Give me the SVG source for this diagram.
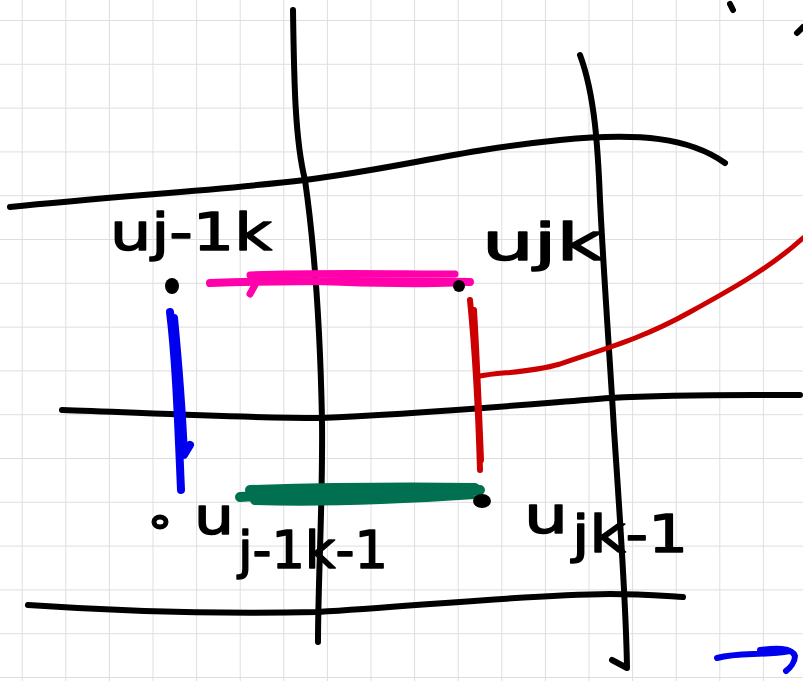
<svg xmlns="http://www.w3.org/2000/svg" width="803" height="681" viewBox="0 0 803 681">
<defs>
<pattern id="grid" x="21.7" y="20" width="43.6" height="43.8" patternUnits="userSpaceOnUse">
<path d="M0 0H43.6M0 0V43.8" fill="none" stroke="#dedede" stroke-width="2"/>
</pattern>
</defs>
<style>
.k{fill:none;stroke:#000;stroke-width:6;stroke-linecap:round;stroke-linejoin:round}
.t{font-family:"DejaVu Sans","Liberation Sans",sans-serif;fill:#000;stroke:#000;stroke-width:1.5;stroke-linejoin:round;font-size:52px}
.dot{fill:#000}
</style>
<rect width="803" height="681" fill="#fff"/>
<rect width="803" height="681" fill="url(#grid)"/>
<g id="grid-lines">
<path class="k" d="M10 207 C120 196 220 190 305 180 C400 168 460 150 560 140 C640 132 690 138 725 163"/>
<path class="k" d="M293 10 C294 80 295 140 305 180 C315 250 320 320 322 420 C323 500 318 580 318 642"/>
<path class="k" d="M580 55 C595 95 598 150 600 200 C604 280 610 360 614 430 C620 520 626 600 627 668 L612 660"/>
<path class="k" d="M62 410 C130 412 230 418 320 418 C420 414 520 405 610 398 C680 394 740 395 800 395"/>
<path class="k" d="M28 605 C130 612 230 614 318 612 C420 606 520 595 610 594 C640 594 665 596 683 597"/>
<path class="k" d="M733 10 L730 4"/>
<path class="k" d="M797 33 L803 27"/>
</g>
<g id="connectors" fill="none" stroke-linecap="round" stroke-linejoin="round">
<path d="M210 283 C300 280 400 281 470 282" stroke="#ff00aa" stroke-width="8"/>
<path d="M250 275 C320 272 400 274 455 274 M255 278 C320 282 400 285 455 283 M255 285 L250 294" stroke="#ff00aa" stroke-width="7"/>
<path d="M170 312 C176 360 178 420 181 490 M174 318 C178 360 182 410 184 455 L190 445" stroke="#0000ee" stroke-width="8"/>
<path d="M470 300 C474 340 478 400 480 470 M474 310 C477 360 479 410 481 460" stroke="#cc0000" stroke-width="6"/>
<path d="M480 376 C500 372 530 373 560 364 C600 350 640 340 690 312 C730 290 770 268 803 238" stroke="#cc0000" stroke-width="5"/>
<path d="M240 497 C300 494 400 492 480 490 M250 490 C320 488 400 487 475 488 M255 500 C320 502 400 499 475 494" stroke="#007050" stroke-width="10"/>
<path d="M717 658 C740 652 760 656 790 651 M760 650 C775 648 792 647 795 656 C795 662 790 668 786 671" stroke="#0000ee" stroke-width="6"/>
</g>
<g id="node-uj-1k">
<ellipse class="dot" cx="172" cy="286" rx="7" ry="8"/>
<text class="t" x="110" y="250" textLength="162" lengthAdjust="spacingAndGlyphs">uj-1k</text>
</g>
<g id="node-ujk">
<ellipse class="dot" cx="459" cy="286" rx="6" ry="6"/>
<text class="t" x="482" y="260" textLength="122" lengthAdjust="spacingAndGlyphs">ujk</text>
</g>
<g id="node-uj-1k-1">
<ellipse cx="160" cy="522" rx="6" ry="5" fill="none" stroke="#000" stroke-width="5"/>
<text class="t" x="194" y="534" textLength="40" lengthAdjust="spacingAndGlyphs">u</text>
<text class="t" x="238" y="568" textLength="150" lengthAdjust="spacingAndGlyphs">j-1k-1</text>
</g>
<g id="node-ujk-1">
<ellipse class="dot" cx="482" cy="501" rx="9" ry="7"/>
<text class="t" x="524" y="533" font-size="58" textLength="44" lengthAdjust="spacingAndGlyphs">u</text>
<text class="t" x="572" y="552" textLength="116" lengthAdjust="spacingAndGlyphs">jk-1</text>
</g>
</svg>
